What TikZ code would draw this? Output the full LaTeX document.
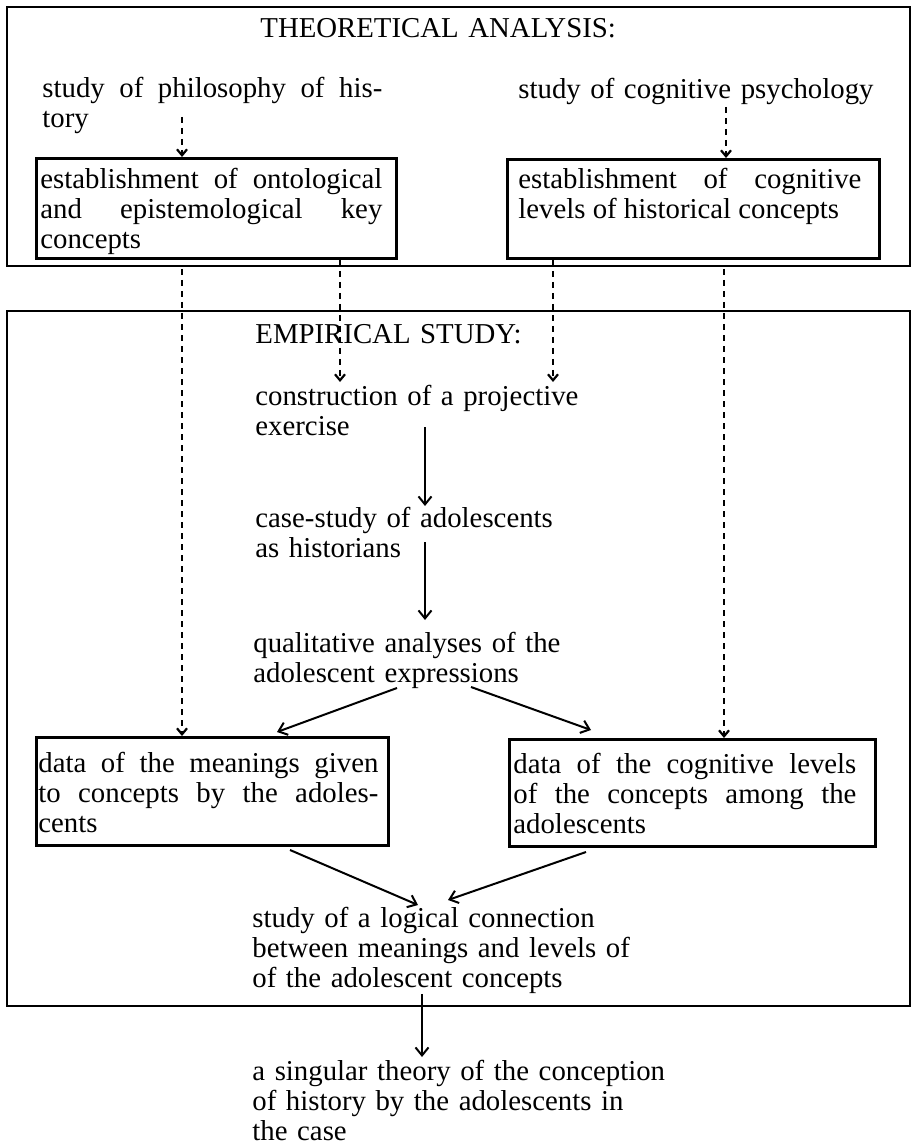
\documentclass[tikz,border=0pt]{standalone}
\usepackage{fontspec}
\setmainfont{Liberation Serif}
\usetikzlibrary{arrows.meta}
\tolerance=10000
\hbadness=10000
\hfuzz=30pt
\begin{document}
\begin{tikzpicture}[x=0.5pt,y=-0.5pt,
  txt/.style={anchor=north west, inner sep=0pt, font=\fontsize{14.4}{15}\selectfont, text width=240pt, align=left},
  jtxt/.style={anchor=north west, inner sep=0pt, font=\fontsize{14.4}{15}\selectfont, align=justify},
  outerbox/.style={draw, line width=1pt, anchor=north west, inner sep=0pt},
  innerbox/.style={draw, line width=1.4pt, anchor=north west, inner sep=0pt},
  dasharr/.style={line width=1.1pt, dash pattern=on 3pt off 2.5pt, -{Straight Barb[length=3pt,width=5pt,line width=1.1pt]}},
  arr/.style={line width=1pt, -{Straight Barb[length=4pt,width=6.5pt,line width=1pt]}}]
\useasboundingbox (0,0) rectangle (916,1144);

% outer frames
\node[outerbox, minimum width=451.5pt, minimum height=129.5pt] (outer1) at (6,6) {};
\node[outerbox, minimum width=451.5pt, minimum height=347.5pt] (outer2) at (6,310) {};

% theoretical analysis
\node[txt] (title1) at (260,16) {\strut THEORETICAL ANALYSIS:};
\node[jtxt, text width=170pt] (phil) at (42,76) {\strut study of philosophy of his-\linebreak tory};
\node[txt] (cogpsy) at (518,77) {\strut study of cognitive psychology};

\node[innerbox, minimum width=180pt, minimum height=50pt] (box1) at (35,157) {};
\node[jtxt, text width=171pt] (box1t) at (40,167) {\strut establishment of ontological\linebreak and epistemological key\linebreak concepts};
\node[innerbox, minimum width=186pt, minimum height=49.5pt] (box2) at (506,158) {};
\node[jtxt, text width=171.5pt] (box2t) at (518,167) {\strut establishment of cognitive\linebreak levels of historical concepts};

% empirical study
\node[txt] (title2) at (255,322) {\strut EMPIRICAL STUDY:};
\node[txt] (constr) at (255,384) {\strut construction of a projective\\exercise};
\node[txt] (case) at (255,506) {\strut case-study of adolescents\\as historians};
\node[txt] (qual) at (253,631) {\strut qualitative analyses of the\\adolescent expressions};

\node[innerbox, minimum width=176pt, minimum height=54pt] (data1) at (35,736) {};
\node[jtxt, text width=170pt] (data1t) at (38,751) {\strut data of the meanings given\linebreak to concepts by the adoles-\linebreak cents};
\node[innerbox, minimum width=183pt, minimum height=53.5pt] (data2) at (508,738) {};
\node[jtxt, text width=171.5pt] (data2t) at (513,752) {\strut data of the cognitive levels\linebreak of the concepts among the\linebreak adolescents};

\node[txt] (logic) at (252,906) {\strut study of a logical connection\\between meanings and levels of\\of the adolescent concepts};
\node[txt] (theory) at (252,1059) {\strut a singular theory of the conception\\of history by the adolescents in\\the case};

% helper coordinates
\coordinate (p1) at (182,117);
\coordinate (p2) at (726,107);
\coordinate (xa) at (182,0);
\coordinate (xb) at (340,0);
\coordinate (xc) at (553,0);
\coordinate (xd) at (724,0);
\coordinate (s1) at (425,427);
\coordinate (s2) at (425,542);
\coordinate (q1) at (397,688);
\coordinate (q1t) at (277,732);
\coordinate (q2) at (471,687);
\coordinate (q2t) at (591,730);
\coordinate (d1) at (290,850);
\coordinate (d1t) at (418,905);
\coordinate (d2) at (586,852);
\coordinate (d2t) at (448,900);
\coordinate (xe) at (422,0);

% dashed connectors
\draw[dasharr] (p1) -- (p1 |- box1.north);
\draw[dasharr] (p2) -- (p2 |- box2.north);
\draw[dasharr] ([yshift=-1pt]xa |- outer1.south) -- (xa |- data1.north);
\draw[dasharr] (xb |- box1.south) -- ([yshift=1pt]xb |- constr.north);
\draw[dasharr] (xc |- box2.south) -- ([yshift=1pt]xc |- constr.north);
\draw[dasharr] ([yshift=-1pt]xd |- outer1.south) -- (xd |- data2.north);

% solid connectors
\draw[arr] (s1) -- (s1 |- case.north);
\draw[arr, shorten >=5.5pt] (s2) -- (s2 |- qual.north);
\draw[arr] (q1) -- (q1t);
\draw[arr] (q2) -- (q2t);
\draw[arr] (d1) -- (d1t);
\draw[arr] (d2) -- (d2t);
\draw[arr] (xe |- logic.south) -- ([yshift=1pt]xe |- theory.north);
\end{tikzpicture}
\end{document}
